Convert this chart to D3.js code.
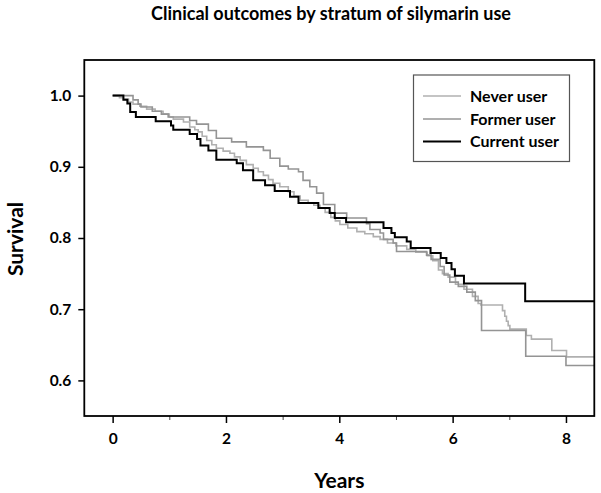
<!DOCTYPE html>
<html>
<head>
<meta charset="utf-8">
<style>
  body { margin: 0; background: #fff; }
  svg text { font-family: Lato, "Open Sans", sans-serif; font-weight: bold; fill: #000; }
</style>
</head>
<body>
<div class="chart"></div>
<script src="https://d3js.org/d3.v7.min.js"></script>
<script>
// series (time in years, survival)
const seriesNames = ['Never user', 'Former user', 'Current user']

const neverT = [0, 0.12, 0.19, 0.28, 0.36, 0.48, 0.60, 0.75, 0.89, 1.0, 1.07, 1.25, 1.36, 1.45, 1.51, 1.58, 1.66, 1.75, 1.83, 1.95,
                2.07, 2.15, 2.25, 2.36, 2.48, 2.57, 2.66, 2.75, 2.83, 2.95, 3.1, 3.2, 3.31, 3.45, 3.55, 3.66, 3.75, 3.85, 3.93, 4.01,
                4.15, 4.31, 4.45, 4.6, 4.72, 4.85, 5.0, 5.19, 5.35, 5.55, 5.65, 5.75, 5.82, 5.92, 6.05, 6.2, 6.35, 6.45, 6.5, 6.88,
                6.92, 6.95, 6.98, 7.01, 7.30, 7.39, 7.75, 8.01, 8.5]
const neverS = [1.0, 0.997, 0.995, 0.991, 0.988, 0.985, 0.981, 0.978, 0.974, 0.970, 0.967, 0.963, 0.956, 0.952, 0.949, 0.943, 0.937, 0.931, 0.926, 0.922,
                0.919, 0.914, 0.909, 0.903, 0.898, 0.893, 0.888, 0.882, 0.877, 0.872, 0.865, 0.859, 0.853, 0.849, 0.846, 0.842, 0.836, 0.829, 0.824, 0.819,
                0.814, 0.809, 0.806, 0.802, 0.798, 0.793, 0.789, 0.784, 0.780, 0.775, 0.768, 0.755, 0.750, 0.745, 0.735, 0.728, 0.718, 0.708, 0.706, 0.698,
                0.690, 0.683, 0.677, 0.672, 0.663, 0.658, 0.642, 0.633, 0.633]

const formerT = [0, 0.36, 0.45, 0.50, 0.70, 0.86, 0.98, 1.36, 1.48, 1.69, 1.83, 2.10, 2.36, 2.66, 2.78, 2.95, 3.10, 3.28, 3.36, 3.48,
                 3.60, 3.72, 3.92, 4.13, 4.48, 4.54, 4.72, 4.78, 4.95, 5.01, 5.54, 5.62, 5.78, 5.85, 5.95, 6.10, 6.25, 6.40, 6.51, 7.29, 8.0, 8.5]
const formerS = [1.0, 0.994, 0.988, 0.984, 0.978, 0.974, 0.970, 0.965, 0.960, 0.951, 0.940, 0.935, 0.928, 0.923, 0.912, 0.901, 0.897, 0.893, 0.881, 0.872,
                 0.863, 0.847, 0.835, 0.828, 0.820, 0.812, 0.807, 0.798, 0.793, 0.781, 0.776, 0.770, 0.760, 0.748, 0.738, 0.732, 0.724, 0.712, 0.670, 0.634, 0.621, 0.621]

const currentT = [0, 0.19, 0.26, 0.31, 0.41, 0.76, 1.03, 1.07, 1.36, 1.49, 1.55, 1.69, 1.83, 2.19, 2.30, 2.48, 2.69, 2.86, 3.13, 3.28,
                  3.63, 3.83, 3.92, 4.12, 4.78, 4.92, 4.98, 5.19, 5.26, 5.61, 5.79, 5.89, 5.98, 6.04, 6.20, 7.28, 8.5]
const currentS = [1.0, 0.994, 0.989, 0.977, 0.970, 0.964, 0.958, 0.952, 0.946, 0.939, 0.930, 0.923, 0.910, 0.905, 0.895, 0.881, 0.874, 0.866, 0.858, 0.849,
                  0.842, 0.835, 0.828, 0.822, 0.814, 0.807, 0.801, 0.795, 0.786, 0.779, 0.772, 0.765, 0.756, 0.747, 0.736, 0.711, 0.711]

const xTicks = [0, 2, 4, 6, 8]
const xMinorTicks = [1, 3, 5, 7]
const yTicks = [0.6, 0.7, 0.8, 0.9, 1.0]

const width = 601, height = 493
const plotLeft = 84.3, plotRight = 594.3, plotTop = 60, plotBottom = 416

const svg = d3.select('.chart').append('svg')
  .attr('width', width)
  .attr('height', height)

const x = d3.scaleLinear().domain([-0.5, 8.5]).range([plotLeft, plotRight])
const y = d3.scaleLinear().domain([0.55, 1.05]).range([plotBottom, plotTop])

// title
svg.append('text')
  .attr('x', 331).attr('y', 20)
  .attr('text-anchor', 'middle')
  .style('font-size', '18px')
  .text('Clinical outcomes by stratum of silymarin use')

// axes
const xAxis = d3.axisBottom(x).tickValues(xTicks).tickSize(7).tickPadding(10).tickFormat(d3.format('d'))
svg.append('g')
  .attr('transform', `translate(0,${plotBottom})`)
  .call(xAxis)
  .call(g => g.select('.domain').remove())
  .call(g => g.selectAll('line').attr('stroke', '#000').attr('stroke-width', 1.5))
  .call(g => g.selectAll('text').style('font-size', '15.5px').style('font-family', 'Lato, sans-serif'))

svg.append('g')
  .attr('transform', `translate(0,${plotBottom})`)
  .call(d3.axisBottom(x).tickValues(xMinorTicks).tickSize(4).tickFormat(''))
  .call(g => g.select('.domain').remove())
  .call(g => g.selectAll('line').attr('stroke', '#444').attr('stroke-width', 1))

const yAxis = d3.axisLeft(y).tickValues(yTicks).tickSize(6).tickPadding(7).tickFormat(d3.format('.1f'))
svg.append('g')
  .attr('transform', `translate(${plotLeft},0)`)
  .call(yAxis)
  .call(g => g.select('.domain').remove())
  .call(g => g.selectAll('line').attr('stroke', '#000').attr('stroke-width', 1.5))
  .call(g => g.selectAll('text').style('font-size', '15.5px').style('font-family', 'Lato, sans-serif'))

// axis titles
svg.append('text')
  .attr('x', x(4)).attr('y', 488)
  .attr('text-anchor', 'middle')
  .style('font-size', '21px')
  .text('Years')

svg.append('text')
  .attr('transform', `translate(23,${(plotTop + plotBottom) / 2 + 1}) rotate(-90)`)
  .attr('text-anchor', 'middle')
  .style('font-size', '21px')
  .text('Survival')

// curves
const series = [
  { name: seriesNames[0], t: neverT, s: neverS, color: '#b0b0b0', w: 1.6 },
  { name: seriesNames[1], t: formerT, s: formerS, color: '#949494', w: 1.6 },
  { name: seriesNames[2], t: currentT, s: currentS, color: '#000', w: 2 }
]

const line = d3.line()
  .x(d => x(d[0]))
  .y(d => y(d[1]))
  .curve(d3.curveStepAfter)

svg.append('g')
  .selectAll('path')
  .data(series)
  .join('path')
  .attr('d', d => line(d.t.map((t, i) => [t, d.s[i]])))
  .attr('fill', 'none')
  .attr('stroke', d => d.color)
  .attr('stroke-width', d => d.w)

// frame
svg.append('rect')
  .attr('x', plotLeft).attr('y', plotTop)
  .attr('width', plotRight - plotLeft).attr('height', plotBottom - plotTop)
  .attr('fill', 'none')
  .attr('stroke', '#000')
  .attr('stroke-width', 1.8)

// legend
const legend = svg.append('g')
legend.append('rect')
  .attr('x', 413.5).attr('y', 75)
  .attr('width', 156).attr('height', 86.5)
  .attr('fill', '#fff')
  .attr('stroke', '#555')
  .attr('stroke-width', 1.2)

const rows = legend.selectAll('g.row')
  .data(series)
  .join('g')
  .attr('class', 'row')
  .attr('transform', (d, i) => `translate(0,${[96, 119, 141.5][i]})`)

rows.append('line')
  .attr('x1', 423).attr('x2', 461)
  .attr('stroke', d => d.color)
  .attr('stroke-width', d => d.w)

rows.append('text')
  .attr('x', 470).attr('y', 5.5)
  .style('font-size', '16px')
  .text(d => d.name)
</script>
</body>
</html>
